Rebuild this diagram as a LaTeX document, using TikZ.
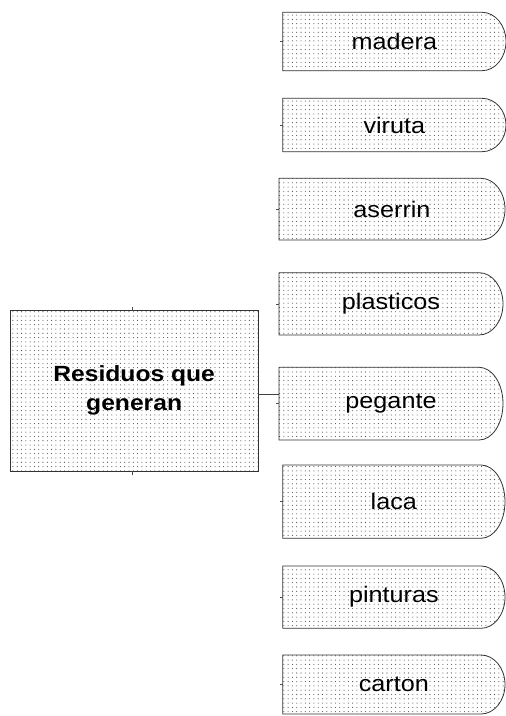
\documentclass[tikz,border=0pt]{standalone}
\usepackage{fontspec}
\setmainfont{Liberation Sans}[FakeStretch=1.12]
\usetikzlibrary{patterns.meta}
\tikzset{
  dotfill/.style={pattern={Dots[distance=4.3pt,radius=0.55pt]},pattern color=black!70},
  boxline/.style={draw=black!80,line width=0.8pt},
  lbl/.style={inner sep=0pt,font=\fontsize{22.5}{28}\selectfont},
  mainlbl/.style={inner sep=0pt,align=center,font=\fontsize{22}{29}\selectfont\bfseries},
  link/.style={draw=black!75,line width=0.8pt},
  stub/.style={draw=black!70,line width=0.6pt}
}
\newcommand{\rbox}[6]{%
  \path[dotfill] (#2,-#3) -- ({#4-24},-#3) arc[start angle=90,end angle=-90,x radius=24,y radius={(#5-#3)/2}] -- (#2,-#5) -- cycle;
  \path[boxline] (#2,-#3) -- ({#4-24},-#3) arc[start angle=90,end angle=-90,x radius=24,y radius={(#5-#3)/2}] -- (#2,-#5) -- cycle;
  \node[lbl,minimum width={#4-#2},minimum height={#5-#3}] (#1) at ({(#2+#4)/2},{-(#3+#5)/2}) {#6};
  \draw[stub] (#1.west) -- ++(-3,0);
}
\begin{document}
\begin{tikzpicture}[x=1pt,y=1pt]
\useasboundingbox (0,0) rectangle (506,-716);
% main box
\path[dotfill] (10,-310.7) rectangle (258.3,-471);
\path[boxline] (10,-310.7) rectangle (258.3,-471);
\node[mainlbl,minimum width=248.3,minimum height=160.3] (main) at (134.15,-390.85) {Residuos que\\generan};
\draw[stub] (132,-310.7) -- ++(0,3.5);
\draw[stub] (132,-471) -- ++(0,-3.5);
% branch boxes
\rbox{madera}{282.7}{12.3}{506}{70.7}{madera}
\rbox{viruta}{282.7}{98.3}{506}{151.7}{viruta}
\rbox{aserrin}{279}{178.3}{505}{240}{aserrin}
\rbox{plasticos}{279}{272.7}{503}{335}{plasticos}
\rbox{pegante}{279}{367.3}{503}{440}{pegante}
\rbox{laca}{282.7}{465}{505}{538.3}{laca}
\rbox{pinturas}{282.7}{566}{505}{628.3}{pinturas}
\rbox{carton}{282.7}{655}{505}{714}{carton}
% connector
\coordinate (j) at (258.3,-394.3);
\draw[link] (j) -- (j -| pegante.west);
\end{tikzpicture}
\end{document}
